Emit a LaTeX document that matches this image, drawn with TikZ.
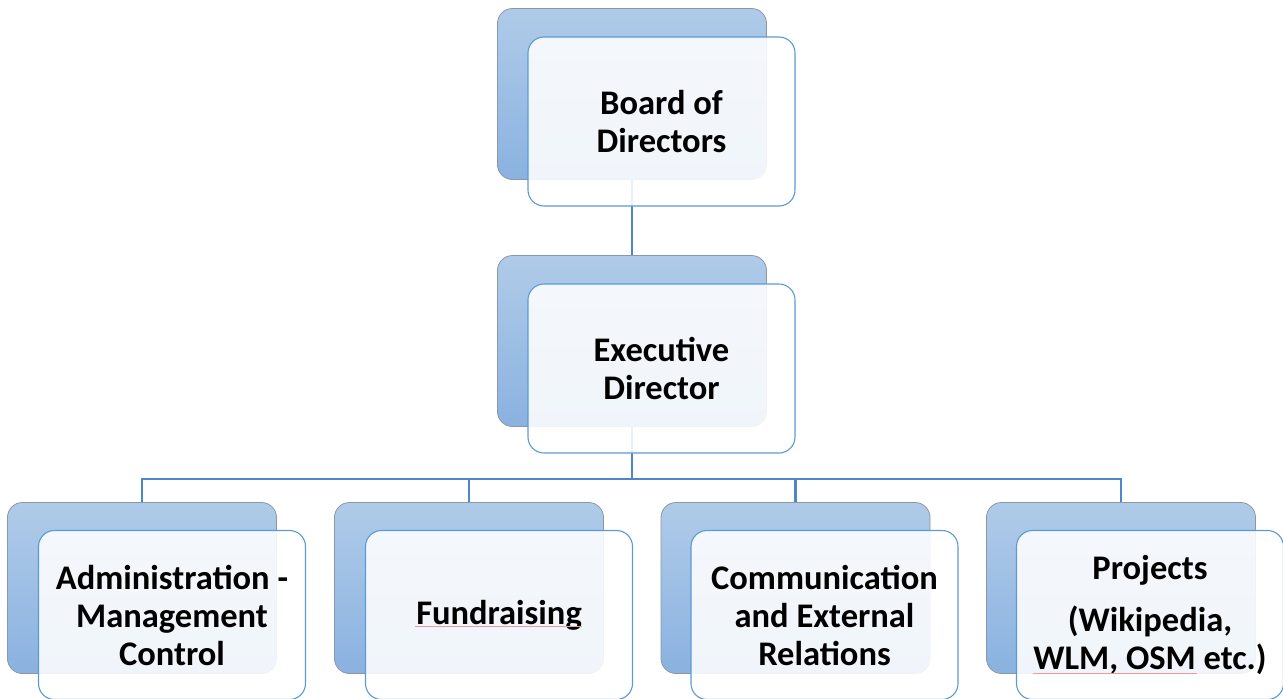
\documentclass[tikz,border=0pt]{standalone}
\usepackage{fontspec}
\setmainfont{Carlito}
\usetikzlibrary{positioning}
\definecolor{backtop}{HTML}{B0CBE9}
\definecolor{backbot}{HTML}{8AB2E0}
\definecolor{backedge}{HTML}{8C97A6}
\definecolor{frontedge}{HTML}{5B9BD5}
\definecolor{linkcol}{HTML}{4F87C6}
\definecolor{squig}{HTML}{F29A9A}
\tikzset{
  backbox/.style={draw=backedge, line width=0.8pt, rounded corners=15pt,
    top color=backtop, bottom color=backbot,
    minimum width=269pt, minimum height=171pt, inner sep=0pt},
  frontbox/.style={draw=frontedge, line width=1.1pt, rounded corners=16pt,
    fill=white, fill opacity=0.88, text opacity=1,
    minimum width=267pt, minimum height=169pt, inner sep=0pt,
    align=center, font=\bfseries\fontsize{34.5}{38}\selectfont},
  link/.style={draw=linkcol, line width=2.4pt},
  squiggle/.style={draw=squig, line width=0.8pt}
}
\begin{document}
\begin{tikzpicture}[x=1pt,y=-1pt]
\useasboundingbox (0,0) rectangle (1283,699);
% back plates
\node[backbox] (bb) at (632,94) {};
\node[backbox] (eb) at (632,341) {};
\node[backbox] (ab) at (142,588) {};
\node[backbox] (fb) at (469,588) {};
\node[backbox] (cb) at (795.5,588) {};
\node[backbox] (pb) at (1121,588) {};
% connectors
\coordinate (bus) at (632,479);
\draw[link] (bb.south) -- (eb.north);
\draw[link] (eb.south) -- (bus);
\draw[link] (ab.north) |- (bus) -| (pb.north);
\draw[link] (fb.north) -- (fb.north |- bus);
\draw[link] (cb.north) -- (cb.north |- bus);
% front cards with text
\node[frontbox] (board) at (661.5,121.5) {Board of\\Directors};
\node[frontbox] (exec) at (661.5,368.5) {Executive\\Director};
\node[frontbox] (admin) at (172,615) {Administration -\\Management\\Control};
\node[frontbox] (fund) at (499,615) {Fundraising};
\node[frontbox] (comm) at (824.5,615) {Communication\\and External\\Relations};
\node[frontbox] (proj) at (1150,615) {Projects\\[14pt](Wikipedia,\\WLM, OSM etc.)};
% spelling marks under words
\draw[squiggle] (415,626.5) -- (582,626.5);
\draw[squiggle] (1033,673) -- (1197,673);
\end{tikzpicture}
\end{document}
